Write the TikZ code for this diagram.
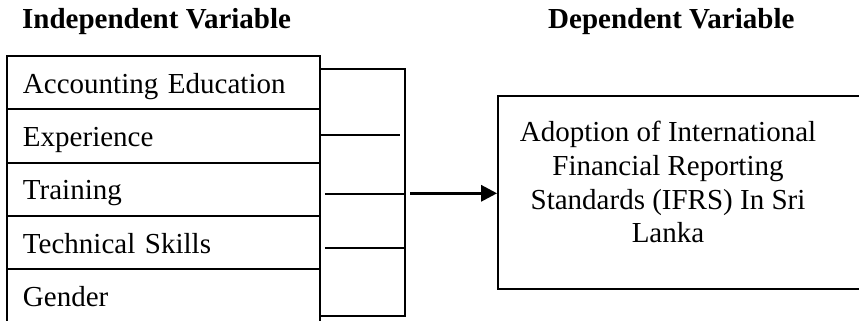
\documentclass[tikz,border=0pt]{standalone}
\usepackage{fontspec}
\setmainfont{Liberation Serif}
\usetikzlibrary{arrows.meta,calc}
\begin{document}
\begin{tikzpicture}[x=1pt,y=-1pt,
  bigtext/.style={font=\fontsize{29}{33.9}\selectfont},
  header/.style={bigtext, font=\fontsize{29}{33.9}\selectfont\bfseries, anchor=base west, inner sep=0pt},
  rowbox/.style={draw, line width=1.8pt, minimum width=313pt, minimum height=53.3pt,
    text width=281pt, inner xsep=16pt, align=left, text height=22pt, text depth=0.8pt, bigtext},
  bracket/.style={line width=1.6pt},
  stub/.style={line width=1.3pt},
  mainarrow/.style={line width=3pt, -{Triangle[length=16pt,width=16pt]}}
]
\useasboundingbox (0,0) rectangle (859,321);
\clip (0,0) rectangle (859,321);

% column headings
\node[header] (hind) at (22,28.8) {Independent Variable};
\node[header] (hdep) at (548,28.8) {Dependent Variable};

% independent variables, stacked
\node[rowbox] (r1) at (163.5,82.65)  {Accounting Education};
\node[rowbox] (r2) at (163.5,135.95) {Experience};
\node[rowbox] (r3) at (163.5,189.25) {Training};
\node[rowbox] (r4) at (163.5,242.55) {Technical Skills};
\node[rowbox] (r5) at (163.5,295.85) {Gender};

% bracket collecting the variables
\coordinate (bt) at (405,69);
\coordinate (bb) at (405,315.7);
\draw[bracket] (r1.east |- bt) -- (bt) -- (bb) -- (r5.east |- bb);
\draw[stub] (r2.east |- 0,135) -- (400,135);
\draw[stub] ($(r3.east |- 0,194)+(4,0)$) -- (bt |- 0,194);
\draw[stub] ($(r4.east |- 0,248)+(4,0)$) -- (bt |- 0,248);

% dependent variable (box runs on past the right margin)
\node[draw, line width=1.8pt, minimum width=442pt, minimum height=193pt] (dv) at (719,192.5) {};
\node[bigtext, align=center, inner sep=0pt] (dvtext) at (668,182)
  {Adoption of International\\Financial Reporting\\Standards (IFRS) In Sri\\Lanka};

% influence arrow
\coordinate (as) at (410,193.3);
\draw[mainarrow] (as) -- (dv.west |- as);
\end{tikzpicture}
\end{document}
